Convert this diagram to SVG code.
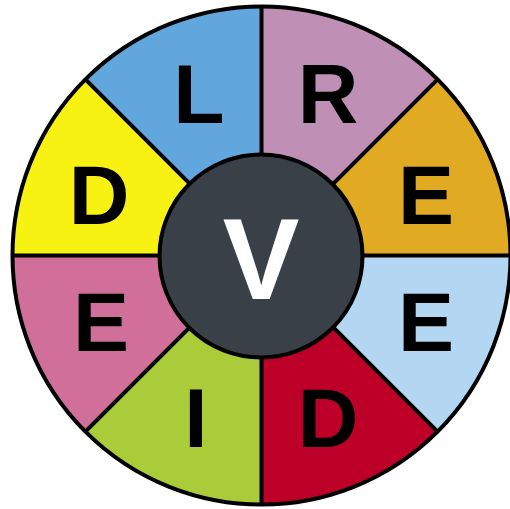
<svg xmlns="http://www.w3.org/2000/svg" width="510" height="509" viewBox="0 0 510 509">
<style>
.seg{stroke:none}
.div{stroke:#000;stroke-width:4;fill:none}
.lt{font-family:"Liberation Sans",Arial,sans-serif;font-weight:bold;font-size:84px;fill:#000;text-anchor:middle}
.ct{font-family:"Liberation Sans",Arial,sans-serif;font-weight:bold;font-size:115px;fill:#fff;text-anchor:middle}
</style>
<rect width="510" height="509" fill="#fff"/>
<g id="seg-L"><path class="seg" fill="#62A6DE" d="M261.5,255.5 L85.4,79.4 A249,249 0 0 1 261.5,6.5 Z"/><text class="lt" x="199" y="123">L</text></g>
<g id="seg-R"><path class="seg" fill="#C08FB5" d="M261.5,255.5 L261.5,6.5 A249,249 0 0 1 437.6,79.4 Z"/><text class="lt" x="328" y="123">R</text></g>
<g id="seg-E1"><path class="seg" fill="#E0AB22" d="M261.5,255.5 L437.6,79.4 A249,249 0 0 1 510.5,255.5 Z"/><text class="lt" x="426" y="224">E</text></g>
<g id="seg-E2"><path class="seg" fill="#B3D7F3" d="M261.5,255.5 L510.5,255.5 A249,249 0 0 1 437.6,431.6 Z"/><text class="lt" x="426" y="351">E</text></g>
<g id="seg-D2"><path class="seg" fill="#BC0028" d="M261.5,255.5 L437.6,431.6 A249,249 0 0 1 261.5,504.5 Z"/><text class="lt" x="328" y="447">D</text></g>
<g id="seg-I"><path class="seg" fill="#A9CC38" d="M261.5,255.5 L261.5,504.5 A249,249 0 0 1 85.4,431.6 Z"/><text class="lt" x="196" y="447">I</text></g>
<g id="seg-E3"><path class="seg" fill="#D0709A" d="M261.5,255.5 L85.4,431.6 A249,249 0 0 1 12.5,255.5 Z"/><text class="lt" x="101" y="351">E</text></g>
<g id="seg-D1"><path class="seg" fill="#F7F212" d="M261.5,255.5 L12.5,255.5 A249,249 0 0 1 85.4,79.4 Z"/><text class="lt" x="99" y="224">D</text></g>
<g id="connectors">
<line class="div" x1="261.5" y1="6.5" x2="261.5" y2="504.5"/>
<line class="div" x1="12.5" y1="255.5" x2="510.5" y2="255.5"/>
<line class="div" x1="85.4" y1="79.4" x2="437.6" y2="431.6"/>
<line class="div" x1="437.6" y1="79.4" x2="85.4" y2="431.6"/>
<circle class="div" cx="261.5" cy="255.5" r="249"/>
</g>
<g id="center"><circle cx="261" cy="256" r="101.5" fill="#394047" stroke="#000" stroke-width="4"/><text class="ct" x="261" y="299">V</text></g>
</svg>
